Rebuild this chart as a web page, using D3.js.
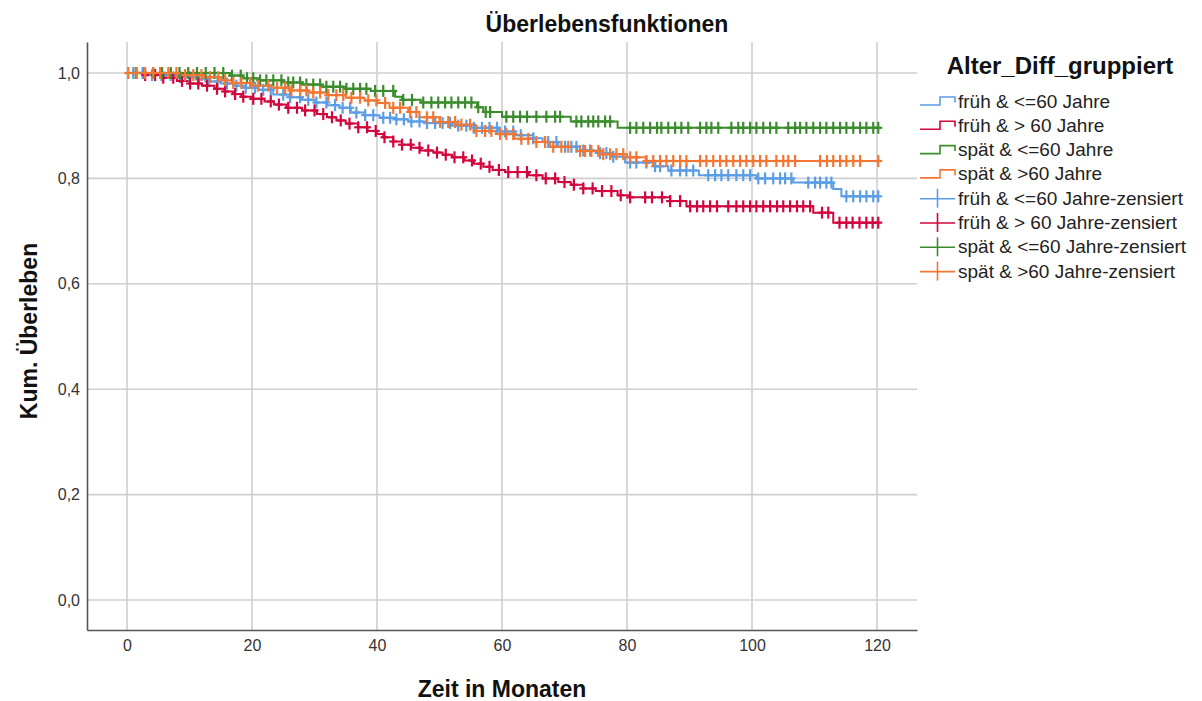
<!DOCTYPE html>
<html>
<head>
<meta charset="utf-8">
<script src="https://cdn.jsdelivr.net/npm/d3@7"></script>
<style>
  body { margin: 0; background: #fff; }
  text { font-family: "Liberation Sans", Arial, sans-serif; }
</style>
</head>
<body>
<svg id="chart" width="1202" height="701"></svg>
<script>
// Kaplan-Meier survival by age / diagnosis group
const groupNames = ["früh & <=60 Jahre", "früh & > 60 Jahre", "spät & <=60 Jahre", "spät & >60 Jahre"];
const groupColors = ["#5b9de6", "#d2063d", "#3a8c2c", "#f47633"];
const xTicks = [0, 20, 40, 60, 80, 100, 120];
const yTicks = [0, 0.2, 0.4, 0.6, 0.8, 1.0];

// event times (months) and survival after each event
const fruehJungTimes = [0, 4, 8, 11, 13, 15, 17, 19, 21, 23.4, 26, 28, 30, 32, 34, 35.8, 38, 40.4, 43, 45, 48, 52, 55, 59.5, 62, 65, 66.5, 69, 72, 75, 77.6, 79.7, 84.5, 86.6, 91.5, 100.7, 106.6, 113, 114.3];
const fruehJungSurv  = [1, 0.996, 0.992, 0.988, 0.984, 0.98, 0.976, 0.972, 0.968, 0.959, 0.954, 0.949, 0.944, 0.939, 0.934, 0.925, 0.92, 0.915, 0.912, 0.908, 0.905, 0.9, 0.896, 0.889, 0.882, 0.876, 0.869, 0.86, 0.853, 0.848, 0.841, 0.83, 0.823, 0.815, 0.806, 0.8, 0.792, 0.78, 0.766];
const fruehJungCens  = [1, 2.5, 4, 5.5, 7, 8.5, 10, 11.5, 13, 14.5, 16, 17.5, 19, 20.5, 21.8, 23, 25, 26.1, 27.7, 29, 30.3, 31.9, 33.3, 34.5, 35.7, 36.7, 38.1, 39.4, 41, 42.1, 43.1, 44.3, 45.5, 46.8, 48, 49.3, 50.5, 51.7, 53, 54.3, 55.5, 56.8, 58, 59.2, 60.5, 61.8, 63, 65, 67.4, 68.7, 70.1, 71.1, 71.9, 73, 74.1, 75.7, 76.7, 77.8, 80.5, 81.5, 83.1, 84.5, 85.3, 87.1, 88.5, 89.5, 90.6, 93, 94.1, 95.1, 96.2, 97.5, 98.6, 99.7, 101, 102.1, 103.4, 104.5, 105.3, 106.3, 109, 110.1, 110.9, 111.9, 112.7, 115.1, 116.2, 117.3, 118.3, 119.4, 120.2];

const fruehAltTimes = [0, 2.6, 5.8, 8, 10, 12, 14, 15.6, 17, 18.3, 20, 22, 23.5, 25.5, 28, 30.4, 32, 33.5, 35, 37, 38.5, 40, 41, 42.6, 44, 45.5, 47, 49, 50.5, 52, 54, 55.5, 57, 58.5, 60.5, 64.3, 66.5, 69, 71, 73, 75, 78.5, 80.5, 86.9, 89.5, 109.8, 113];
const fruehAltSurv  = [1, 0.996, 0.991, 0.985, 0.98, 0.976, 0.97, 0.965, 0.96, 0.955, 0.951, 0.946, 0.94, 0.934, 0.929, 0.922, 0.916, 0.91, 0.904, 0.897, 0.89, 0.884, 0.878, 0.87, 0.864, 0.858, 0.853, 0.849, 0.845, 0.84, 0.834, 0.828, 0.822, 0.816, 0.812, 0.806, 0.8, 0.793, 0.788, 0.781, 0.776, 0.768, 0.764, 0.757, 0.747, 0.735, 0.716];
const fruehAltCens  = [1.5, 2.9, 4.5, 5.8, 7.4, 8.8, 10.1, 11.4, 12.8, 14.4, 15.7, 17.3, 18.6, 20.2, 21.5, 23, 24.3, 25.8, 27.2, 28.5, 30, 31.4, 32.8, 34.2, 35.6, 37, 38.4, 39.8, 41.2, 42.6, 44, 45.4, 46.8, 48.2, 49.6, 51, 52.4, 53.8, 55.2, 56.6, 58, 59.5, 61, 62.5, 64, 65.5, 67, 68.5, 70, 71.5, 73, 74.5, 76, 77.5, 79, 80.5, 82.9, 84, 85.6, 86.9, 88.5, 90.1, 91.2, 92.2, 93.3, 94.4, 96.2, 97.5, 98.6, 99.7, 100.7, 101.8, 102.9, 104, 105, 106.1, 107.2, 108.2, 109.3, 111.2, 112.2, 114, 115.1, 116.1, 117.2, 118.3, 119.3, 120.2];

const spaetJungTimes = [0, 16.5, 18.5, 21, 25, 28, 31, 35, 39, 42.9, 44, 47, 56, 57, 60, 71, 78.5];
const spaetJungSurv  = [1, 0.995, 0.99, 0.986, 0.982, 0.978, 0.974, 0.97, 0.966, 0.955, 0.949, 0.944, 0.935, 0.926, 0.917, 0.908, 0.896];
const spaetJungCens  = [1.4, 2.8, 4.2, 5.6, 7, 8.4, 9.8, 11.2, 12.6, 14, 15.4, 16.8, 18.2, 19.2, 20.2, 21.3, 22.3, 23.4, 24.7, 25.8, 26.6, 27.7, 28.7, 29.8, 30.9, 31.9, 33, 34.1, 35.1, 36.2, 37.3, 38.3, 39.7, 41, 42.6, 44.2, 45.6, 47.4, 48.7, 49.8, 50.9, 51.9, 53, 54.1, 55.1, 56.2, 57.4, 58.1, 60.7, 61.8, 62.9, 64, 65.5, 67.1, 68.5, 69.3, 71.9, 72.7, 73.8, 74.6, 75.4, 76.5, 77.3, 80.5, 81.5, 82.6, 83.7, 84.8, 85.5, 86.6, 87.7, 88.7, 89.8, 91.7, 92.7, 93.5, 94.6, 96.7, 97.8, 98.6, 99.7, 100.7, 101.8, 102.9, 103.9, 105.8, 106.9, 107.7, 108.7, 109.8, 110.9, 111.9, 113, 114.1, 115.1, 116.2, 117.3, 118.3, 119.4, 120.2];

const spaetAltTimes = [0, 8, 12, 15, 17, 20, 23, 26, 29, 32, 35, 38, 40, 42, 45, 46.8, 50, 52.6, 55.8, 59, 62, 65, 67.7, 72.5, 76, 80, 83];
const spaetAltSurv  = [1, 0.996, 0.992, 0.986, 0.981, 0.976, 0.972, 0.967, 0.963, 0.958, 0.953, 0.948, 0.943, 0.934, 0.926, 0.916, 0.907, 0.902, 0.89, 0.884, 0.875, 0.869, 0.86, 0.852, 0.846, 0.84, 0.833];
const spaetAltCens  = [0.2, 1.5, 2.9, 4.2, 5.3, 6.6, 7.9, 9.3, 10.6, 11.9, 13.3, 14.6, 15.7, 17, 18.3, 19.7, 21, 22.6, 24, 25.3, 26.3, 27.7, 28.7, 29.8, 30.9, 32.2, 33.5, 34.6, 35.9, 37.3, 38.6, 39.9, 41.3, 42.6, 43.7, 45.3, 46.3, 48, 49, 50.1, 51.4, 52.5, 53.5, 54.9, 55.9, 57.3, 58.3, 59.7, 60.7, 61.8, 63.1, 64.2, 65.5, 66.9, 68.2, 69.5, 70.6, 72.5, 73.3, 74.3, 75.4, 76.2, 77.3, 78.3, 79.4, 80.5, 81.5, 83.1, 84.2, 85.3, 86.3, 87.4, 88.5, 89.5, 91.7, 92.7, 93.8, 94.9, 95.9, 97, 98.1, 99.1, 100.2, 101.3, 102.3, 103.9, 105, 105.8, 106.9, 110.9, 112, 113, 114.1, 115.1, 116.2, 117.3, 120.2];

const series = [
  { name: groupNames[0], color: groupColors[0], times: fruehJungTimes, surv: fruehJungSurv, cens: fruehJungCens },
  { name: groupNames[1], color: groupColors[1], times: fruehAltTimes,  surv: fruehAltSurv,  cens: fruehAltCens },
  { name: groupNames[2], color: groupColors[2], times: spaetJungTimes, surv: spaetJungSurv, cens: spaetJungCens },
  { name: groupNames[3], color: groupColors[3], times: spaetAltTimes,  surv: spaetAltSurv,  cens: spaetAltCens }
];

const svg = d3.select("#chart");
const plot = { left: 87, right: 917, top: 42, bottom: 630 };

const x = d3.scaleLinear().domain([-6.4, 126.4]).range([plot.left, plot.right]);
const y = d3.scaleLinear().domain([-0.0569, 1.0588]).range([plot.bottom, plot.top]);

// grid
const grid = svg.append("g").attr("stroke", "#cfcfcf").attr("stroke-width", 1.6);
grid.selectAll("line.v").data(xTicks).join("line")
  .attr("x1", d => x(d)).attr("x2", d => x(d))
  .attr("y1", plot.top).attr("y2", plot.bottom);
grid.selectAll("line.h").data(yTicks).join("line")
  .attr("x1", plot.left).attr("x2", plot.right)
  .attr("y1", d => y(d)).attr("y2", d => y(d));

// axes
const fmt = d => d3.format(".1f")(d).replace(".", ",");
const xAxis = svg.append("g").attr("transform", `translate(0,${plot.bottom})`)
  .call(d3.axisBottom(x).tickValues(xTicks).tickSize(0).tickPadding(10));
const yAxis = svg.append("g").attr("transform", `translate(${plot.left},0)`)
  .call(d3.axisLeft(y).tickValues(yTicks).tickSize(0).tickPadding(7).tickFormat(fmt));
[xAxis, yAxis].forEach(a => {
  a.select(".domain").attr("stroke", "#555").attr("stroke-width", 1.6);
  a.selectAll("text").attr("font-size", 16).attr("fill", "#333")
    .attr("font-family", "'Liberation Sans', Arial, sans-serif");
});

// step curves
function survAt(s, t) {
  let v = s.surv[0];
  for (let i = 0; i < s.times.length; i++) if (s.times[i] <= t) v = s.surv[i];
  return v;
}
series.forEach(s => {
  const end = Math.max(d3.max(s.cens), d3.max(s.times));
  const pts = s.times.map((t, i) => [t, s.surv[i]]);
  pts.push([end, s.surv[s.surv.length - 1]]);
  const line = d3.line().x(d => x(d[0])).y(d => y(d[1])).curve(d3.curveStepAfter);
  svg.append("path").datum(pts)
    .attr("fill", "none").attr("stroke", s.color).attr("stroke-width", 2)
    .attr("d", line);
});

// censoring marks
series.forEach(s => {
  const g = svg.append("g").attr("stroke", s.color).attr("stroke-width", 2.2);
  s.cens.forEach(t => {
    const cx = x(t), cy = y(survAt(s, t));
    g.append("line").attr("x1", cx).attr("x2", cx).attr("y1", cy - 6).attr("y2", cy + 6);
    g.append("line").attr("x1", cx - 4).attr("x2", cx + 4).attr("y1", cy).attr("y2", cy);
  });
});

// titles
svg.append("text").attr("x", 607).attr("y", 32).attr("text-anchor", "middle")
  .attr("font-size", 23).attr("font-weight", "bold").attr("fill", "#111").text("Überlebensfunktionen");
svg.append("text").attr("x", 502).attr("y", 697).attr("text-anchor", "middle")
  .attr("font-size", 23).attr("font-weight", "bold").attr("fill", "#111").text("Zeit in Monaten");
svg.append("text").attr("transform", "translate(37,331) rotate(-90)").attr("text-anchor", "middle")
  .attr("font-size", 23).attr("font-weight", "bold").attr("fill", "#111").text("Kum. Überleben");

// legend
const lg = svg.append("g");
lg.append("text").attr("x", 1060).attr("y", 74).attr("text-anchor", "middle")
  .attr("font-size", 24).attr("font-weight", "bold").attr("fill", "#111").text("Alter_Diff_gruppiert");
const rowY = i => 101.5 + i * 24.3;
series.forEach((s, i) => {
  const cy = rowY(i);
  lg.append("path").attr("fill", "none").attr("stroke", s.color).attr("stroke-width", 1.6)
    .attr("d", `M920,${cy + 3.5}H940V${cy - 4.5}H955V${cy + 1}`);
  lg.append("text").attr("x", 958).attr("y", cy + 6).attr("font-size", 19).attr("fill", "#222").text(s.name);
});
series.forEach((s, i) => {
  const cy = rowY(i + 4);
  lg.append("line").attr("x1", 920).attr("x2", 955).attr("y1", cy).attr("y2", cy)
    .attr("stroke", s.color).attr("stroke-width", 1.6);
  lg.append("line").attr("x1", 937.5).attr("x2", 937.5).attr("y1", cy - 10).attr("y2", cy + 9)
    .attr("stroke", s.color).attr("stroke-width", 1.6);
  lg.append("text").attr("x", 958).attr("y", cy + 6).attr("font-size", 19).attr("fill", "#222").text(s.name + "-zensiert");
});
</script>
</body>
</html>
